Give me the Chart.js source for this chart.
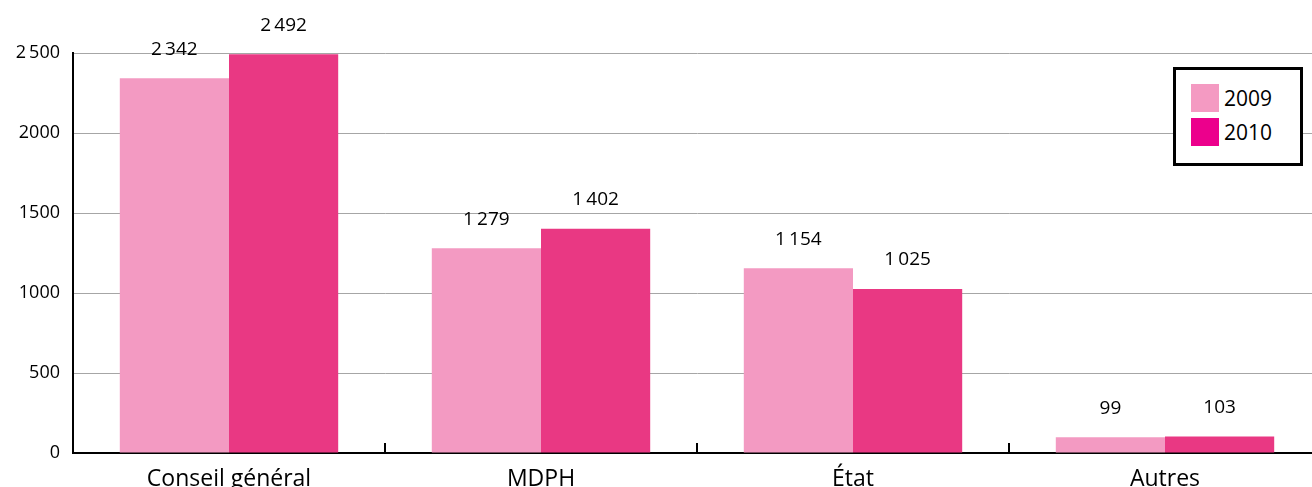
<!DOCTYPE html>
<html>
<head>
<meta charset="utf-8">
<script src="https://cdn.jsdelivr.net/npm/chart.js@4/dist/chart.umd.min.js"></script>
<style>
  html, body { margin:0; padding:0; background:#fff; overflow:hidden; width:1312px; height:487px; }
  #wrap { position:absolute; left:0; top:0; width:1330px; height:487px; }
  #legend { position:absolute; left:1173px; top:67px; width:124px; height:93px; border:3px solid #000; background:#fff;
            font-family:"Open Sans", sans-serif; font-size:21px; color:#000; }
  .li { position:absolute; left:15px; height:28px; display:flex; align-items:center; }
  .sw { width:28px; height:28px; margin-right:5px; }
</style>
</head>
<body>
<div id="wrap"><canvas id="c" width="1330" height="487"></canvas></div>
<div id="legend">
  <div class="li" style="top:14px"><div class="sw" style="background:#F49AC2"></div><span>2009</span></div>
  <div class="li" style="top:48px"><div class="sw" style="background:#EC008C"></div><span>2010</span></div>
</div>
<script>
const categories = ["Conseil général", "MDPH", "État", "Autres"];
const values2009 = [2342, 1279, 1154, 99];
const values2010 = [2492, 1402, 1025, 103];
const seriesNames = ["2009", "2010"];
const yTickValues = [0, 500, 1000, 1500, 2000, 2500];
const yTickLabels = ["0", "500", "1000", "1500", "2000", "2\u2009500"];

function fmt(v) {
  const s = String(v);
  return s.length > 3 ? s.slice(0, s.length - 3) + "\u2009" + s.slice(-3) : s;
}

const FONT = "'Open Sans', sans-serif";

const decorPlugin = {
  id: 'decor',
  afterDatasetsDraw(chart) {
    const ctx = chart.ctx;
    const x = chart.scales.x, y = chart.scales.y;
    ctx.save();
    ctx.strokeStyle = '#000';
    ctx.lineWidth = 2;
    const n = categories.length;
    for (let i = 1; i < n; i++) {
      const px = (x.getPixelForValue(i - 1) + x.getPixelForValue(i)) / 2;
      ctx.beginPath();
      ctx.moveTo(px, y.bottom);
      ctx.lineTo(px, y.bottom - 10);
      ctx.stroke();
    }
    ctx.fillStyle = '#000';
    ctx.font = "19px " + FONT;
    ctx.textAlign = 'center';
    ctx.textBaseline = 'middle';
    chart.data.datasets.forEach((ds, di) => {
      const meta = chart.getDatasetMeta(di);
      meta.data.forEach((bar, i) => {
        ctx.fillText(fmt(ds.data[i]), bar.x, bar.y - 29);
      });
    });
    ctx.restore();
  }
};

new Chart(document.getElementById('c'), {
  type: 'bar',
  data: {
    labels: categories,
    datasets: [
      { label: seriesNames[0], data: values2009, backgroundColor: '#F39AC2' },
      { label: seriesNames[1], data: values2010, backgroundColor: '#E93883' }
    ]
  },
  options: {
    responsive: false,
    animation: false,
    events: [],
    layout: { padding: { top: 53, right: 9, left: 0, bottom: 0 } },
    plugins: { legend: { display: false }, tooltip: { enabled: false } },
    datasets: { bar: { categoryPercentage: 0.7, barPercentage: 1.0 } },
    scales: {
      x: {
        grid: { display: false },
        border: { display: true, color: '#000', width: 2 },
        ticks: { color: '#000', font: { family: FONT, size: 23 }, padding: 5 },
        afterFit(s) { s.height = 34; }
      },
      y: {
        min: 0, max: 2500,
        afterBuildTicks(s) { s.ticks = yTickValues.map(v => ({ value: v })); },
        ticks: {
          color: '#000', font: { family: FONT, size: 18 }, padding: 13,
          callback: (v) => yTickLabels[yTickValues.indexOf(v)]
        },
        grid: { color: '#a6a6a6', lineWidth: 1, drawTicks: false },
        border: { display: true, color: '#000', width: 2 },
        afterFit(s) { s.width = 73; }
      }
    }
  },
  plugins: [decorPlugin]
});
</script>
</body>
</html>
